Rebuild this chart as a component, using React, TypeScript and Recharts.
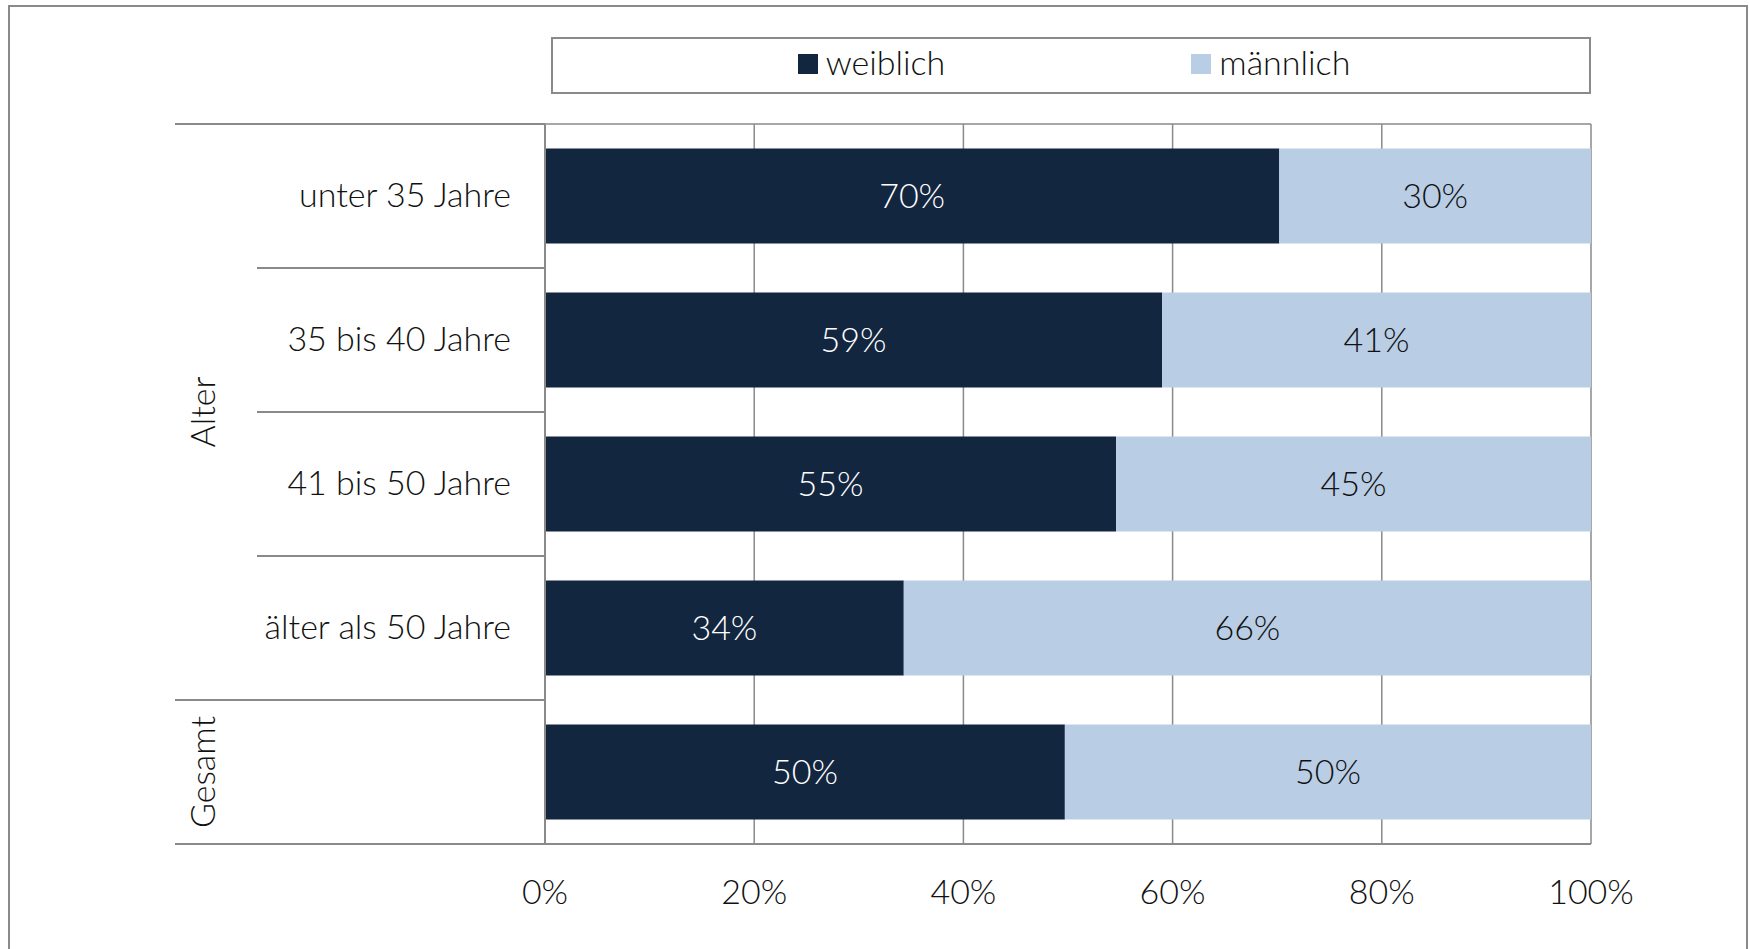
import React from 'react'
import {
  BarChart,
  Bar,
  XAxis,
  YAxis,
  CartesianGrid,
  Legend,
  LabelList,
} from 'recharts'

// values (share in %)
const categories = ['unter 35 Jahre', '35 bis 40 Jahre', '41 bis 50 Jahre', 'älter als 50 Jahre', 'Gesamt']
const tickLabels = ['unter 35 Jahre', '35 bis 40 Jahre', '41 bis 50 Jahre', 'älter als 50 Jahre', '']
const weiblich = [70.2, 59.0, 54.6, 34.3, 49.7]
const maennlich = [29.8, 41.0, 45.4, 65.7, 50.3]
const xTicks = [0, 20, 40, 60, 80, 100]
const groups = [
  { label: 'Alter', from: 0, to: 3 },
  { label: 'Gesamt', from: 4, to: 4 },
]

const data = categories.map((name, i) => ({
  name,
  tick: tickLabels[i],
  weiblich: weiblich[i],
  maennlich: maennlich[i],
}))

const W = 1749
const H = 949
const TOP = 124
const RIGHT = 158
const Y_AXIS_W = 545
const X_AXIS_H = 105
const BAND = (H - TOP - X_AXIS_H) / categories.length

const FONT = 'Lato, "Open Sans", sans-serif'
const FONT_SIZE = 34
const GRID = '#8a8a8a'
const DARK = '#132640'
const LIGHT = '#b9cde5'
const TEXT = '#111'

const GROUP_X0 = 175
const SUB_X0 = 257
const GROUP_LABEL_X = 201

const CategoryTick = (props: any) => {
  const { x, y, index, payload } = props
  const axisX = Y_AXIS_W
  const top = y - BAND / 2
  const group = groups.find(g => g.from === index)
  const last = index === categories.length - 1
  const gy = group ? top + ((group.to - group.from + 1) * BAND) / 2 : 0
  return (
    <g>
      <line
        x1={group ? GROUP_X0 : SUB_X0}
        x2={axisX}
        y1={top}
        y2={top}
        stroke={GRID}
        strokeWidth={2}
      />
      {last && (
        <line x1={GROUP_X0} x2={axisX} y1={top + BAND} y2={top + BAND} stroke={GRID} strokeWidth={2} />
      )}
      <text
        x={x}
        y={y - 3}
        textAnchor="end"
        dominantBaseline="central"
        fontFamily={FONT}
        fontWeight={300}
        fontSize={FONT_SIZE}
        fill={TEXT}
      >
        {tickLabels[index] ?? payload.value}
      </text>
      {group && (
        <text
          x={GROUP_LABEL_X}
          y={gy}
          transform={`rotate(-90 ${GROUP_LABEL_X} ${gy})`}
          textAnchor="middle"
          dominantBaseline="central"
          fontFamily={FONT}
          fontWeight={300}
          fontSize={FONT_SIZE}
          fill={TEXT}
        >
          {group.label}
        </text>
      )}
    </g>
  )
}

const LegendBox = () => (
  <div
    style={{
      boxSizing: 'border-box',
      width: '100%',
      height: '100%',
      border: `2px solid ${GRID}`,
      display: 'flex',
      alignItems: 'center',
      justifyContent: 'center',
      gap: 246,
      fontFamily: FONT,
      fontWeight: 300,
      fontSize: FONT_SIZE,
      color: TEXT,
      paddingLeft: 6,
      paddingBottom: 8,
    }}
  >
    {[
      { label: 'weiblich', color: DARK },
      { label: 'männlich', color: LIGHT },
    ].map(item => (
      <div key={item.label} style={{ display: 'flex', alignItems: 'center' }}>
        <span style={{ width: 20, height: 20, background: item.color, marginRight: 8, marginTop: 4, display: 'inline-block' }} />
        <span>{item.label}</span>
      </div>
    ))}
  </div>
)

const fmt = (v: any) => `${Math.round(Number(v))}%`

export default function App() {
  return (
    <div style={{ position: 'fixed', left: 0, top: 0, width: W, height: H, overflow: 'hidden', background: '#fff' }}>
      <div
        style={{
          position: 'absolute',
          left: 8,
          top: 5,
          width: 1740,
          height: 1000,
          boxSizing: 'border-box',
          border: `2px solid ${GRID}`,
        }}
      />
      <div style={{ position: 'absolute', left: 0, top: 0 }}>
        <BarChart
          width={W}
          height={H}
          data={data}
          layout="vertical"
          barCategoryGap="17%"
          margin={{ top: TOP, right: RIGHT, bottom: 0, left: 0 }}
        >
          <CartesianGrid
            vertical
            horizontal
            horizontalCoordinatesGenerator={(args: any) => [args.offset.top]}
            stroke={GRID}
            strokeWidth={1.5}
          />
          <XAxis
            type="number"
            domain={[0, 100]}
            ticks={xTicks}
            tickFormatter={(v: number) => `${v}%`}
            height={X_AXIS_H}
            tickLine={false}
            tickSize={0}
            tickMargin={36}
            axisLine={{ stroke: GRID, strokeWidth: 2 }}
            tick={{ fontFamily: FONT, fontWeight: 300, fontSize: FONT_SIZE, fill: TEXT }}
            interval={0}
          />
          <XAxis
            xAxisId="top"
            orientation="top"
            type="number"
            domain={[0, 100]}
            height={0}
            tick={false}
            tickLine={false}
            axisLine={{ stroke: GRID, strokeWidth: 2 }}
          />
          <YAxis
            type="category"
            dataKey="name"
            width={Y_AXIS_W}
            tickLine={false}
            tickSize={0}
            tickMargin={34}
            axisLine={{ stroke: GRID, strokeWidth: 2 }}
            tick={<CategoryTick />}
            interval={0}
          />
          <Legend
            layout="horizontal"
            verticalAlign="middle"
            align="center"
            content={() => <LegendBox />}
            wrapperStyle={{ left: 551, top: 37, width: 1040, height: 57 }}
          />
          <Bar dataKey="weiblich" stackId="a" fill={DARK} isAnimationActive={false}>
            <LabelList
              dataKey="weiblich"
              position="center"
              formatter={fmt}
              fill="#fff"
              fontFamily={FONT}
              fontWeight={300}
              fontSize={FONT_SIZE}
            />
          </Bar>
          <Bar dataKey="maennlich" name="männlich" stackId="a" fill={LIGHT} isAnimationActive={false}>
            <LabelList
              dataKey="maennlich"
              position="center"
              formatter={fmt}
              fill={TEXT}
              fontFamily={FONT}
              fontWeight={300}
              fontSize={FONT_SIZE}
            />
          </Bar>
        </BarChart>
      </div>
    </div>
  )
}
